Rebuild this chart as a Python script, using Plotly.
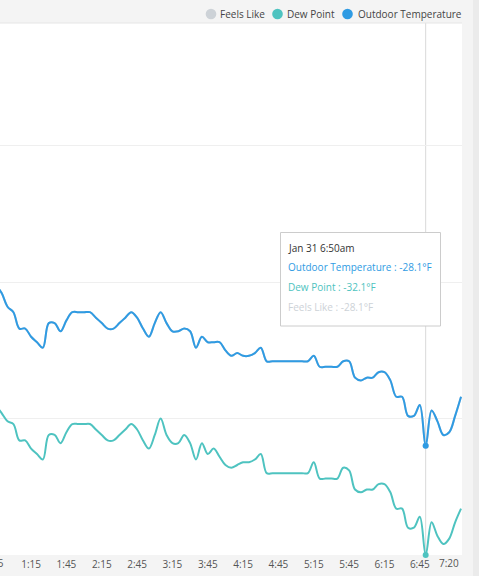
import pandas as pd
import plotly.graph_objects as go

# ---- observations: Jan 31, every 5 minutes, 12:45am .. 7:20am ----
obs_start = "2019-01-31 00:45"
obs_end = "2019-01-31 07:20"
obs_step = "5min"

outdoor_temp = [
    -22.2, -22.5, -23.0, -23.2, -23.8, -23.8, -24.1, -24.3, -24.5, -23.6,
    -23.6, -23.9, -23.5, -23.2, -23.2, -23.2, -23.2, -23.4, -23.6, -23.8,
    -23.8, -23.6, -23.4, -23.2, -23.4, -23.8, -24.1, -23.6, -23.2, -23.6,
    -23.9, -23.9, -23.8, -23.9, -24.5, -24.1, -24.3, -24.3, -24.3, -24.6,
    -24.8, -24.7, -24.8, -24.8, -24.7, -24.5, -25.0, -25.0, -25.0, -25.0,
    -25.0, -25.0, -25.0, -25.0, -24.8, -25.2, -25.2, -25.2, -25.2, -25.0,
    -25.0, -25.6, -25.7, -25.6, -25.6, -25.4, -25.4, -25.7, -26.3, -26.3,
    -27.0, -27.0, -26.6, -28.1, -26.8, -27.2, -27.7, -27.6, -27.0, -26.3,
]

dew_point = [
    -26.6, -26.9, -27.2, -27.3, -27.9, -27.9, -28.2, -28.4, -28.6, -27.7,
    -27.7, -28.0, -27.6, -27.3, -27.3, -27.3, -27.3, -27.5, -27.7, -27.9,
    -27.9, -27.7, -27.5, -27.3, -27.5, -27.9, -28.2, -27.7, -27.1, -27.7,
    -28.0, -28.0, -27.7, -28.0, -28.6, -28.0, -28.4, -28.2, -28.5, -28.8,
    -28.9, -28.8, -28.7, -28.7, -28.6, -28.4, -29.1, -29.1, -29.1, -29.1,
    -29.1, -29.1, -29.1, -29.1, -28.7, -29.3, -29.3, -29.3, -29.3, -28.9,
    -29.0, -29.7, -29.8, -29.7, -29.7, -29.5, -29.5, -29.8, -30.4, -30.4,
    -31.1, -31.1, -30.7, -32.1, -30.9, -31.4, -31.7, -31.5, -30.9, -30.4,
]

# calm wind: the feels-like reading tracks the air temperature
feels_like = [
    -22.2, -22.5, -23.0, -23.2, -23.8, -23.8, -24.1, -24.3, -24.5, -23.6,
    -23.6, -23.9, -23.5, -23.2, -23.2, -23.2, -23.2, -23.4, -23.6, -23.8,
    -23.8, -23.6, -23.4, -23.2, -23.4, -23.8, -24.1, -23.6, -23.2, -23.6,
    -23.9, -23.9, -23.8, -23.9, -24.5, -24.1, -24.3, -24.3, -24.3, -24.6,
    -24.8, -24.7, -24.8, -24.8, -24.7, -24.5, -25.0, -25.0, -25.0, -25.0,
    -25.0, -25.0, -25.0, -25.0, -24.8, -25.2, -25.2, -25.2, -25.2, -25.0,
    -25.0, -25.6, -25.7, -25.6, -25.6, -25.4, -25.4, -25.7, -26.3, -26.3,
    -27.0, -27.0, -26.6, -28.1, -26.8, -27.2, -27.7, -27.6, -27.0, -26.3,
]

series_names = ["Feels Like", "Dew Point", "Outdoor Temperature"]

tick_times = [
    "2019-01-31 00:45", "2019-01-31 01:15", "2019-01-31 01:45",
    "2019-01-31 02:15", "2019-01-31 02:45", "2019-01-31 03:15",
    "2019-01-31 03:45", "2019-01-31 04:15", "2019-01-31 04:45",
    "2019-01-31 05:15", "2019-01-31 05:45", "2019-01-31 06:15",
    "2019-01-31 06:45", "2019-01-31 07:20",
]
tick_labels = [
    "12:45", "1:15", "1:45", "2:15", "2:45", "3:15", "3:45",
    "4:15", "4:45", "5:15", "5:45", "6:15", "6:45", "7:20",
]

y_grid_values = [-27.1, -22.1, -17.1]

hover_time = "2019-01-31 06:50"

# visible window of the scrolling chart
x_view = ["2019-01-31 00:48:36", "2019-01-31 07:20:50"]
y_view = [-32.1, -12.6]

# ---- styling ----
COLORS = {
    "Feels Like": "#cdd2d7",
    "Dew Point": "#4ec3c0",
    "Outdoor Temperature": "#2f9be3",
}
FONT = "Open Sans, Noto Sans, sans-serif"
TXT = 10
W, H = 479, 576
PLOT_L, PLOT_R, PLOT_T, PLOT_B = 0, 462, 23, 555


def fx(px):
    return (px - PLOT_L) / (PLOT_R - PLOT_L)


def fy(py):
    return (PLOT_B - py) / (PLOT_B - PLOT_T)


times = pd.date_range(obs_start, obs_end, freq=obs_step)
assert len(times) == len(outdoor_temp) == len(dew_point) == len(feels_like)

values = {
    "Feels Like": feels_like,
    "Dew Point": dew_point,
    "Outdoor Temperature": outdoor_temp,
}

fig = go.Figure()

# lines, feels-like underneath
for name in series_names:
    fig.add_trace(go.Scatter(
        x=times, y=values[name], name=name, mode="lines",
        line=dict(color=COLORS[name], width=2, shape="spline", smoothing=1.0),
        showlegend=False, hoverinfo="skip",
    ))

# hovered point markers
ht = pd.Timestamp(hover_time)
hi = list(times).index(ht)
for name in series_names:
    fig.add_trace(go.Scatter(
        x=[times[hi]], y=[values[name][hi]], mode="markers",
        marker=dict(color=COLORS[name], size=6),
        cliponaxis=False, showlegend=False, hoverinfo="skip",
    ))

# axis ticks that fall inside the visible window
t_lo, t_hi = pd.Timestamp(x_view[0]), pd.Timestamp(x_view[1])
inner_vals, inner_text, edge_ticks = [], [], []
for t, lab in zip(tick_times, tick_labels):
    ts = pd.Timestamp(t)
    if t_lo <= ts and ts < times[-1]:
        inner_vals.append(ts)
        inner_text.append(lab)
    else:
        edge_ticks.append((ts, lab))

fig.update_xaxes(
    range=x_view, tickvals=inner_vals, ticktext=inner_text,
    showgrid=False, zeroline=False, showline=False, ticks="",
    ticklabelstandoff=2,
    tickfont=dict(family=FONT, size=TXT, color="#555555"),
    fixedrange=True,
)
fig.update_yaxes(
    range=y_view, tickvals=y_grid_values, showticklabels=False,
    showgrid=True, gridcolor="#efefef", gridwidth=1,
    zeroline=False, showline=False, ticks="",
)

# first/last labels sit at the window edges (first one scrolled partly out)
span = (t_hi - t_lo).total_seconds()
annotations = []
for ts, lab in edge_ticks:
    if ts >= times[-1]:
        pos, anchor, shift = fx(461), "right", 0
    else:
        pos, anchor, shift = (ts - t_lo).total_seconds() / span, "center", -5
    annotations.append(dict(
        x=pos, y=fy(563), xref="paper", yref="paper", text=lab,
        showarrow=False, xanchor=anchor, yanchor="middle", xshift=shift,
        font=dict(family=FONT, size=TXT, color="#555555"),
    ))

shapes = []

# header separator and right-hand scroll strip
shapes.append(dict(type="line", xref="paper", yref="paper", x0=0, x1=1,
                   y0=1, y1=1, line=dict(color="#e6e6e6", width=1)))
shapes.append(dict(type="rect", xref="paper", yref="paper",
                   x0=fx(473), x1=fx(480), y0=fy(577), y1=fy(-1),
                   fillcolor="#ebebeb", line=dict(width=0), layer="below"))

# crosshair at hovered time
shapes.append(dict(type="line", xref="x", yref="paper", x0=ht, x1=ht,
                   y0=0, y1=1, line=dict(color="#d9d9d9", width=1),
                   layer="below"))

# legend: circle swatch + label
legend_items = [("Feels Like", 211, 218), ("Dew Point", 277.5, 285),
                ("Outdoor Temperature", 347.5, 356)]
r = 5.3
for name, cx, tx in legend_items:
    shapes.append(dict(type="circle", xref="paper", yref="paper",
                       x0=fx(cx - r), x1=fx(cx + r), y0=fy(14 + r), y1=fy(14 - r),
                       fillcolor=COLORS[name], line=dict(width=0)))
    annotations.append(dict(
        x=fx(tx), y=fy(14), xref="paper", yref="paper", text=name,
        showarrow=False, xanchor="left", yanchor="middle",
        font=dict(family=FONT, size=TXT, color="#444444"),
    ))

# tooltip box
shapes.append(dict(type="rect", xref="paper", yref="paper",
                   x0=fx(280.5), x1=fx(440.5), y0=fy(326), y1=fy(232.5),
                   fillcolor="white", line=dict(color="#cccccc", width=1),
                   layer="above"))

hour12 = ht.hour % 12 or 12
ampm = "am" if ht.hour < 12 else "pm"
tip_lines = [(f"{ht:%b} {ht.day} {hour12}:{ht:%M}{ampm}", "#333333", 248)]
for name, ypix in [("Outdoor Temperature", 267), ("Dew Point", 287),
                   ("Feels Like", 307)]:
    tip_lines.append((f"{name} : {values[name][hi]:.1f}°F", COLORS[name], ypix))
for text, color, ypix in tip_lines:
    annotations.append(dict(
        x=fx(286), y=fy(ypix), xref="paper", yref="paper", text=text,
        showarrow=False, xanchor="left", yanchor="middle",
        font=dict(family=FONT, size=TXT, color=color),
    ))

fig.update_layout(
    width=W, height=H,
    margin=dict(l=PLOT_L, r=W - PLOT_R, t=PLOT_T, b=H - PLOT_B),
    paper_bgcolor="#f4f4f4", plot_bgcolor="white",
    showlegend=False, shapes=shapes, annotations=annotations,
    hovermode=False,
)

fig.write_html("out.html", config={"displayModeBar": False})
